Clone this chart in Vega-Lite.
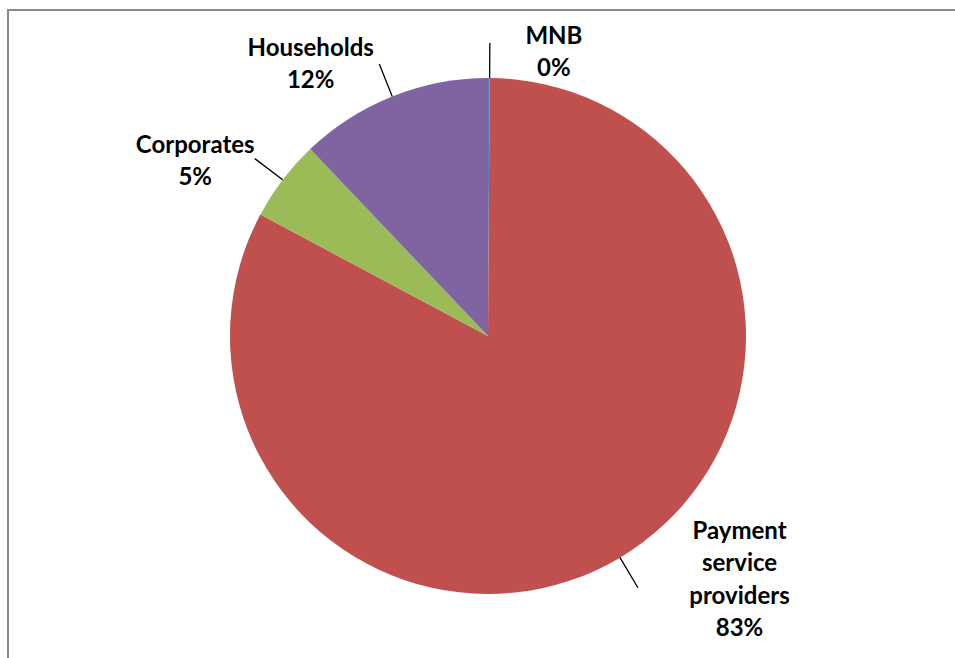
{
  "$schema": "https://vega.github.io/schema/vega-lite/v6.json",
  "width": 960,
  "height": 652,
  "autosize": {"type": "none"},
  "padding": {"left": 8, "top": 10, "right": -13, "bottom": -4},
  "config": {"view": {"stroke": null}},
  "data": {
    "values": [
      {"category": "MNB", "value": 0.1, "order": 1, "label": "MNB 0%"},
      {"category": "Payment service providers", "value": 82.7, "order": 2, "label": "Payment service providers 83%"},
      {"category": "Corporates", "value": 5.1, "order": 3, "label": "Corporates 5%"},
      {"category": "Households", "value": 12.1, "order": 4, "label": "Households 12%"}
    ]
  },
  "transform": [
    {"window": [{"op": "sum", "field": "value", "as": "cum"}], "sort": [{"field": "order"}], "frame": [null, 0]},
    {"window": [{"op": "mean", "field": "cum", "as": "mid"}], "sort": [{"field": "order"}], "frame": [-1, 0]}
  ],
  "layer": [
    {
      "data": {"values": [{"frame": 1}]},
      "mark": {"type": "rect", "filled": false, "stroke": "#8a8a8a", "strokeWidth": 2},
      "encoding": {}
    },
    {
      "mark": {"type": "arc", "radius": 258},
      "encoding": {
        "theta": {"field": "value", "type": "quantitative", "stack": true, "scale": {"domain": [0, 100]}},
        "order": {"field": "order", "type": "quantitative"},
        "color": {
          "field": "category",
          "type": "nominal",
          "scale": {
            "domain": ["MNB", "Payment service providers", "Corporates", "Households"],
            "range": ["#4F81BD", "#C0504D", "#9BBB59", "#8064A2"]
          },
          "legend": null
        }
      }
    },
    {
      "mark": {"type": "arc", "radius": 293, "radius2": 258, "filled": false, "stroke": "#000000", "strokeWidth": 1.3},
      "encoding": {
        "theta": {"field": "mid", "type": "quantitative", "scale": {"domain": [0, 100]}},
        "theta2": {"field": "mid"}
      }
    },
    {
      "transform": [{"filter": "datum.category === 'MNB'"}],
      "mark": {"type": "text", "radius": 300, "dx": 64, "dy": 1, "lineBreak": " ", "font": "Lato", "fontWeight": "bold", "fontSize": 24, "lineHeight": 32, "align": "center", "baseline": "middle", "color": "#000000"},
      "encoding": {
        "theta": {"field": "mid", "type": "quantitative", "scale": {"domain": [0, 100]}},
        "text": {"field": "label"}
      }
    },
    {
      "transform": [{"filter": "datum.category === 'Payment service providers'"}],
      "mark": {"type": "text", "radius": 300, "dx": 98, "dy": -62, "lineBreak": " ", "font": "Lato", "fontWeight": "bold", "fontSize": 24, "lineHeight": 32.5, "align": "center", "baseline": "middle", "color": "#000000"},
      "encoding": {
        "theta": {"field": "mid", "type": "quantitative", "scale": {"domain": [0, 100]}},
        "text": {"field": "label"}
      }
    },
    {
      "transform": [{"filter": "datum.category === 'Corporates'"}],
      "mark": {"type": "text", "radius": 300, "dx": -54, "dy": -8, "lineBreak": " ", "font": "Lato", "fontWeight": "bold", "fontSize": 24, "lineHeight": 32, "align": "center", "baseline": "middle", "color": "#000000"},
      "encoding": {
        "theta": {"field": "mid", "type": "quantitative", "scale": {"domain": [0, 100]}},
        "text": {"field": "label"}
      }
    },
    {
      "transform": [{"filter": "datum.category === 'Households'"}],
      "mark": {"type": "text", "radius": 300, "dx": -66, "dy": -8, "lineBreak": " ", "font": "Lato", "fontWeight": "bold", "fontSize": 24, "lineHeight": 32, "align": "center", "baseline": "middle", "color": "#000000"},
      "encoding": {
        "theta": {"field": "mid", "type": "quantitative", "scale": {"domain": [0, 100]}},
        "text": {"field": "label"}
      }
    }
  ]
}
